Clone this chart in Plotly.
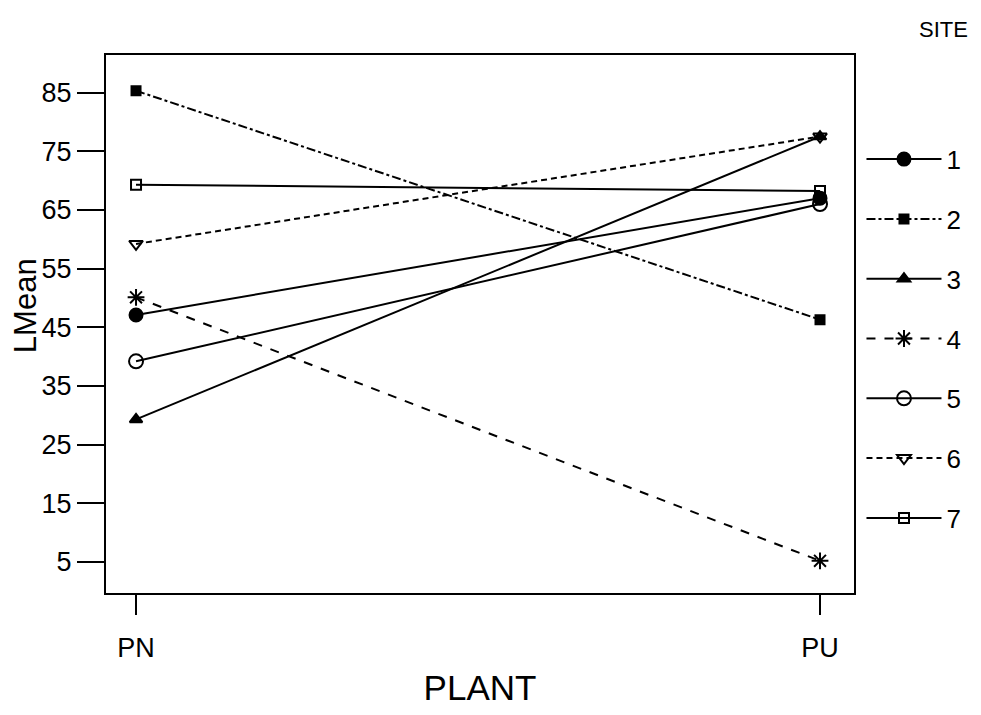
import plotly.graph_objects as go

plants = ["PN", "PU"]
sites = ["1", "2", "3", "4", "5", "6", "7"]
site_values = {
    "1": [47.1, 67.0],
    "2": [85.3, 46.3],
    "3": [29.3, 77.5],
    "4": [50.1, 5.2],
    "5": [39.2, 66.0],
    "6": [59.2, 77.5],
    "7": [69.3, 68.2],
}
y_ticks = [5, 15, 25, 35, 45, 55, 65, 75, 85]

styles = {
    "1": dict(symbol="circle", size=13, dash="solid"),
    "2": dict(symbol="square", size=9, dash="dashdot"),
    "3": dict(symbol="triangle-up", size=11, dash="solid"),
    "4": dict(symbol="asterisk-open", size=14, dash="dash"),
    "5": dict(symbol="circle-open", size=14, dash="solid"),
    "6": dict(symbol="triangle-down-open", size=12, dash="6px,4px"),
    "7": dict(symbol="square-open", size=10, dash="solid"),
}

fig = go.Figure()
for s in sites:
    st = styles[s]
    fig.add_trace(go.Scatter(
        x=plants, y=site_values[s], name=s, mode="lines+markers",
        legendgroup=s,
        line=dict(color="black", width=2, dash=st["dash"]),
        marker=dict(symbol=st["symbol"], size=st["size"], color="black",
                    line=dict(color="black", width=2)),
    ))

fig.update_layout(
    width=965, height=699,
    paper_bgcolor="white", plot_bgcolor="white",
    margin=dict(l=98, r=119, t=47, b=114, autoexpand=False),
    font=dict(family="Liberation Sans, Arial, sans-serif", size=27, color="black"),
    showlegend=True,
    legend=dict(x=1.01, xanchor="left", y=0.85, yanchor="top",
                tracegroupgap=23, font=dict(size=26), itemwidth=75,
                bgcolor="rgba(0,0,0,0)"),
    annotations=[
        dict(text="SITE", xref="paper", yref="paper", x=1.155, y=1.0465,
             xanchor="right", yanchor="middle", showarrow=False,
             font=dict(size=22)),
        dict(text="LMean", xref="paper", yref="paper", x=-0.1083, y=0.535,
             xanchor="center", yanchor="middle", textangle=-90, showarrow=False,
             font=dict(size=31)),
    ],
)

fig.update_xaxes(
    type="category", range=[-0.0439, 1.0497], automargin=False,
    showline=True, linecolor="black", linewidth=2, mirror=True,
    ticks="outside", ticklen=20, tickwidth=2, tickcolor="black",
    showgrid=False, zeroline=False, ticklabelstandoff=10,
    tickfont=dict(size=27),
    title=dict(text="PLANT", font=dict(size=35), standoff=15),
)
fig.update_yaxes(
    range=[-0.28, 91.39], tickvals=y_ticks, automargin=False,
    showline=True, linecolor="black", linewidth=2, mirror=True,
    ticks="outside", ticklen=27, tickwidth=2, tickcolor="black",
    showgrid=False, zeroline=False, ticklabelstandoff=0,
    tickfont=dict(size=27),
)

fig.write_html("out.html")
